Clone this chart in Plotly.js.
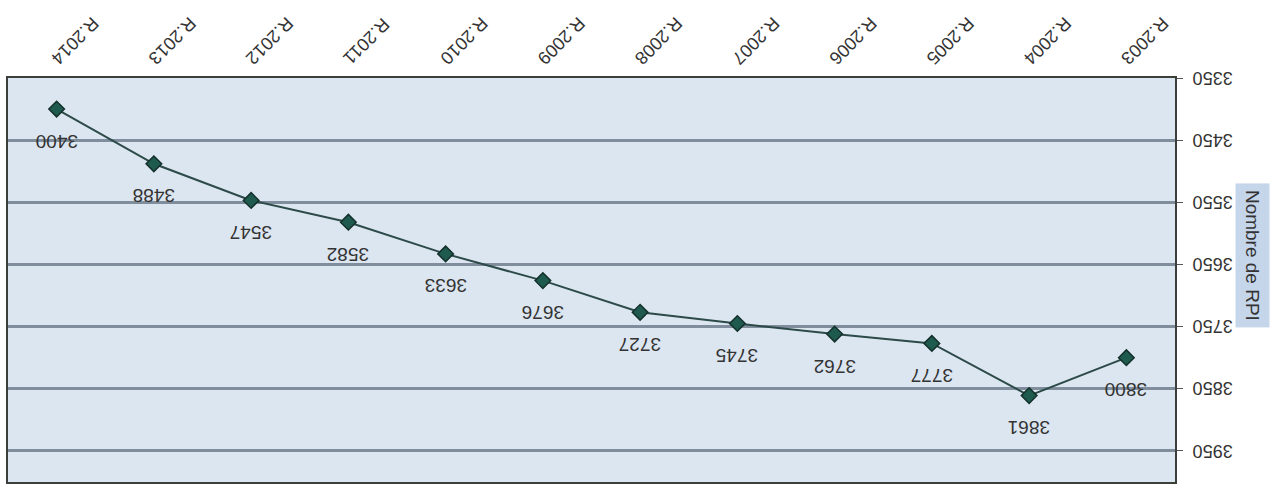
<!DOCTYPE html>
<html>
<head>
<meta charset="utf-8">
<script src="https://cdn.plot.ly/plotly-3.0.1.min.js"></script>
<style>
html,body{margin:0;padding:0;background:#ffffff;}
#chart{width:1272px;height:494px;transform:rotate(180deg);transform-origin:50% 50%;}
</style>
</head>
<body>
<div id="chart"></div>
<script>
const categories = ["R.2003","R.2004","R.2005","R.2006","R.2007","R.2008","R.2009","R.2010","R.2011","R.2012","R.2013","R.2014"];
const rpiValues = [3800, 3861, 3777, 3762, 3745, 3727, 3676, 3633, 3582, 3547, 3488, 3400];
const yTickValues = [3350, 3450, 3550, 3650, 3750, 3850, 3950];
const yTitle = "Nombre de RPI";

const font = "'Liberation Sans', Arial, sans-serif";

const trace = {
  type: "scatter",
  mode: "lines+markers",
  x: categories,
  y: rpiValues,
  line: {color: "#2c4a48", width: 2},
  marker: {symbol: "diamond", size: 12, color: "#1f5a4e", line: {color: "#14302b", width: 1.5}},
  hoverinfo: "x+y",
  cliponaxis: false
};

const labelAnnotations = categories.map((c, i) => ({
  x: c, y: rpiValues[i], xref: "x", yref: "y",
  text: String(rpiValues[i]), showarrow: false, yshift: 32,
  font: {family: font, size: 19, color: "#333333"}
}));

const titleAnnotation = {
  xref: "paper", yref: "paper", x: -0.0668, y: 0.438,
  xanchor: "center", yanchor: "middle",
  text: yTitle, textangle: -90, showarrow: false,
  bgcolor: "#c6d6ea", borderpad: 6,
  font: {family: font, size: 19, color: "#333333"}
};

const layout = {
  width: 1272, height: 494,
  margin: {l: 97, r: 8, t: 12, b: 78},
  paper_bgcolor: "#ffffff",
  plot_bgcolor: "#dce6f1",
  showlegend: false,
  font: {family: font, size: 18, color: "#333333"},
  xaxis: {
    type: "category",
    categoryarray: categories,
    tickangle: -45,
    showgrid: false,
    zeroline: false,
    showline: true, mirror: true, linecolor: "#3a3f3a", linewidth: 2,
    ticks: "",
    tickfont: {family: font, size: 18, color: "#333333"},
    range: [-0.5, categories.length - 0.5]
  },
  yaxis: {
    range: [3350, 4000],
    tickvals: yTickValues,
    ticktext: yTickValues.map(String),
    showgrid: true, gridcolor: "#7f8d9d", gridwidth: 3,
    zeroline: false,
    showline: true, mirror: true, linecolor: "#3a3f3a", linewidth: 2,
    ticks: "outside", ticklen: 6, tickcolor: "#555555",
    ticklabelstandoff: 6,
    tickfont: {family: font, size: 18, color: "#333333"}
  },
  annotations: labelAnnotations.concat([titleAnnotation])
};

Plotly.newPlot("chart", [trace], layout, {displayModeBar: false, staticPlot: true});
</script>
</body>
</html>
